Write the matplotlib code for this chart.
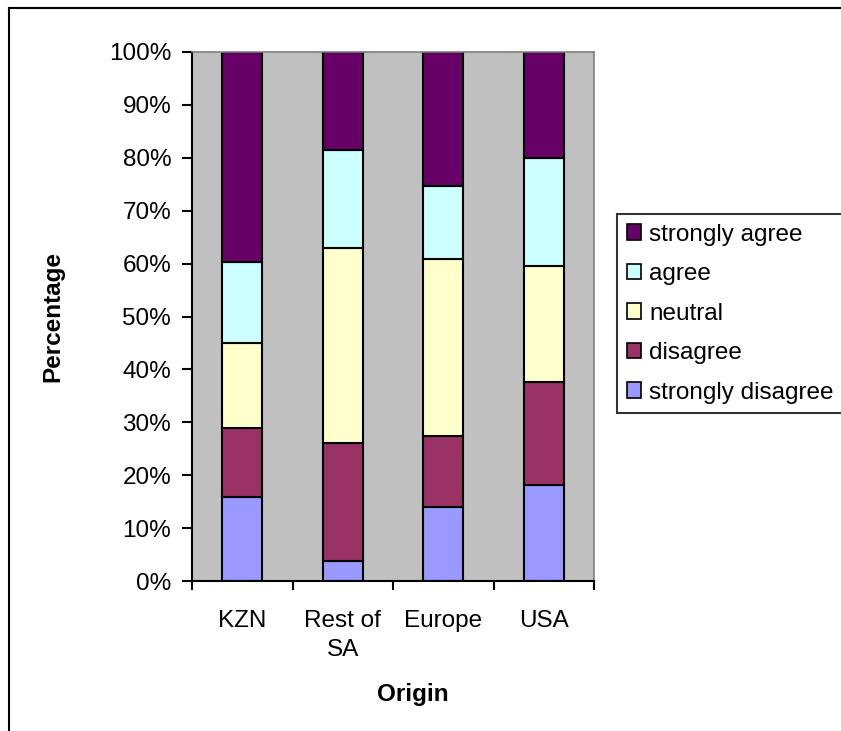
import matplotlib
matplotlib.use("Agg")
import matplotlib.pyplot as plt
import numpy as np
from matplotlib.patches import Patch
from matplotlib.lines import Line2D

plt.rcParams["font.family"] = ["Liberation Sans", "DejaVu Sans"]

# Data (percent of respondents per origin)
origins = ["KZN", "Rest of\nSA", "Europe", "USA"]
responses = ["strongly disagree", "disagree", "neutral", "agree", "strongly agree"]
strongly_disagree = [15.8, 3.7, 13.9, 18.1]
disagree = [13.2, 22.3, 13.6, 19.6]
neutral = [15.9, 37.0, 33.3, 21.9]
agree = [15.4, 18.5, 13.9, 20.4]
strongly_agree = [39.7, 18.5, 25.3, 20.0]
yticks = list(range(0, 101, 10))

COLORS = ["#9999FF", "#993366", "#FFFFCC", "#CCFFFF", "#660066"]
FS = 17.5

W, H = 841, 731
fig = plt.figure(figsize=(W / 100, H / 100), dpi=100, facecolor="white")
ax = fig.add_axes([192 / W, 1 - 581 / H, (594 - 192) / W, (581 - 52) / H])
ax.set_facecolor("#C0C0C0")

x = np.arange(len(origins)) + 0.5
series = [strongly_disagree, disagree, neutral, agree, strongly_agree]
bottom = np.zeros(len(origins))
for vals, color in zip(series, COLORS):
    ax.bar(x, vals, width=0.4, bottom=bottom, color=color,
           edgecolor="black", linewidth=1.5, zorder=2)
    bottom += np.array(vals)

ax.set_xlim(0, len(origins))
ax.set_ylim(0, 100)

ax.set_yticks(yticks)
ax.set_yticklabels([f"{v}%" for v in yticks], fontsize=FS)
ax.tick_params(axis="y", direction="out", length=7, width=1.5, pad=8)

ax.set_xticks(x)
ax.set_xticklabels(origins, fontsize=FS, linespacing=1.4, va="top")
ax.tick_params(axis="x", which="major", length=0, pad=21)
ax.set_xticks(np.arange(len(origins) + 1), minor=True)
ax.tick_params(axis="x", which="minor", direction="out", length=6.5, width=1.5)

for side in ("left", "bottom"):
    ax.spines[side].set_linewidth(1.5)
    ax.spines[side].set_color("black")
for side in ("top", "right"):
    ax.spines[side].set_linewidth(1.2)
    ax.spines[side].set_color("#808080")

fig.text(413 / W, 1 - 695 / H, "Origin", fontsize=FS, fontweight="bold",
         ha="center", va="center")
fig.text(53 / W, 1 - 316 / H, "Percentage", fontsize=FS, fontweight="bold",
         ha="center", va="center", rotation=90)

# Legend (top entry first); its box runs past the right edge as in the reference
handles = [Patch(facecolor=c, edgecolor="black", linewidth=1.2)
           for c in COLORS[::-1]]
leg = fig.legend(handles, responses[::-1], loc="upper left",
                 bbox_to_anchor=(617 / W, 1 - 413 / H, 240 / W, 199 / H),
                 mode="expand", borderaxespad=0,
                 fontsize=FS, frameon=True, fancybox=False,
                 handlelength=0.6, handleheight=0.6, handletextpad=0.33,
                 labelspacing=0.72, borderpad=0.4)
leg.get_frame().set_edgecolor("black")
leg.get_frame().set_linewidth(1.5)

# Outer chart-area border (only top and left edges are in frame)
fig.add_artist(Line2D([9 / W, 1.0], [1 - 8 / H, 1 - 8 / H], color="black",
                      linewidth=1.5, transform=fig.transFigure))
fig.add_artist(Line2D([9 / W, 9 / W], [1 - 8 / H, 0.0], color="black",
                      linewidth=1.5, transform=fig.transFigure))

fig.savefig("out.png", dpi=100, facecolor="white")
